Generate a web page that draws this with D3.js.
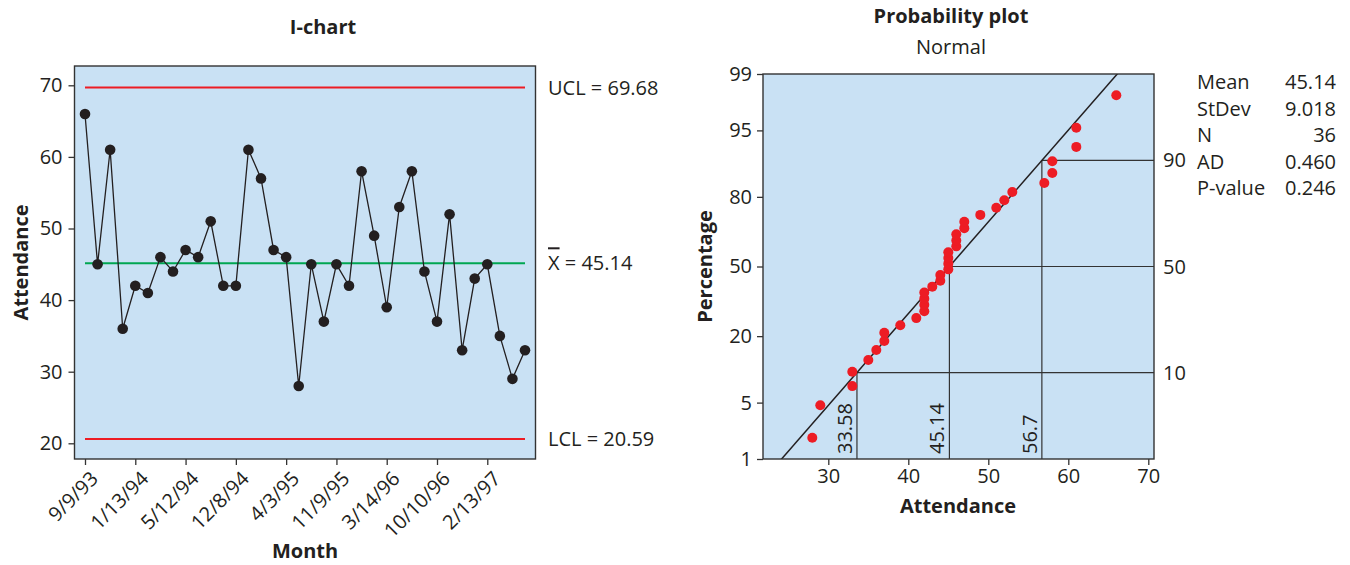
<!DOCTYPE html>
<html>
<head>
<meta charset="utf-8">
<script src="https://cdn.jsdelivr.net/npm/d3@7"></script>
<style>
  body { margin: 0; background: #fff; }
  svg text { font-family: 'Open Sans', sans-serif; fill: #231f20; }
  .bold { font-weight: 700; }
</style>
</head>
<body>
<div id="chart"></div>
<script>
// attendance per month, in order (36 readings)
const attendance = [66, 45, 61, 36, 42, 41, 46, 44, 47, 46, 51, 42, 42, 61, 57, 47, 46, 28,
    45, 37, 45, 42, 58, 49, 39, 53, 58, 44, 37, 52, 33, 43, 45, 35, 29, 33];
const monthLabels = ['9/9/93', '1/13/94', '5/12/94', '12/8/94', '4/3/95', '11/9/95', '3/14/96', '10/10/96', '2/13/97'];
const monthStep = 4;
const limits = { ucl: 69.68, mean: 45.14, lcl: 20.59 };
const attendanceTicks = [20, 30, 40, 50, 60, 70];
const probXTicks = [30, 40, 50, 60, 70];
const pctTicks = [1, 5, 20, 50, 80, 95, 99];
const refPcts = [10, 50, 90];
const statNames = ['Mean', 'StDev', 'N', 'AD', 'P-value'];
const statValues = ['45.14', '9.018', '36', '0.460', '0.246'];

const fillBg = '#c9e1f4';
const red = '#ed1c24';
const green = '#00a651';
const ink = '#231f20';
const fs = 20;

// inverse standard normal cdf (Acklam)
function normInv(p) {
    const a = [-39.69683028665376, 220.9460984245205, -275.9285104469687, 138.3577518672690, -30.66479806614716, 2.506628277459239];
    const b = [-54.47609879822406, 161.5858368580409, -155.6989798598866, 66.80131188771972, -13.28068155288572];
    const c = [-0.007784894002430293, -0.3223964580411365, -2.400758277161838, -2.549732539343734, 4.374664141464968, 2.938163982698783];
    const d = [0.007784695709041462, 0.3224671290700398, 2.445134137142996, 3.754408661907416];
    const pl = 0.02425;
    let q;
    let r;
    if (p < pl) {
        q = Math.sqrt(-2 * Math.log(p));
        return (((((c[0] * q + c[1]) * q + c[2]) * q + c[3]) * q + c[4]) * q + c[5])
            / ((((d[0] * q + d[1]) * q + d[2]) * q + d[3]) * q + 1);
    }
    if (p > 1 - pl) {
        q = Math.sqrt(-2 * Math.log(1 - p));
        return -(((((c[0] * q + c[1]) * q + c[2]) * q + c[3]) * q + c[4]) * q + c[5])
            / ((((d[0] * q + d[1]) * q + d[2]) * q + d[3]) * q + 1);
    }
    q = p - 0.5;
    r = q * q;
    return (((((a[0] * r + a[1]) * r + a[2]) * r + a[3]) * r + a[4]) * r + a[5]) * q
        / (((((b[0] * r + b[1]) * r + b[2]) * r + b[3]) * r + b[4]) * r + 1);
}

const svg = d3.select('#chart').append('svg')
    .attr('width', 1350)
    .attr('height', 565);

function drawIChart() {
    const box = { left: 74.5, right: 535.5, top: 66, bottom: 459 };
    const x = d3.scaleLinear().domain([1, attendance.length]).range([85, 525]);
    const y = d3.scaleLinear().domain([20, 70]).range([443.3, 85.3]);
    const g = svg.append('g');

    g.append('rect')
        .attr('x', box.left).attr('y', box.top)
        .attr('width', box.right - box.left).attr('height', box.bottom - box.top)
        .attr('fill', fillBg)
        .attr('stroke', '#333')
        .attr('stroke-width', 1.4);

    const yAxis = g.append('g')
        .attr('transform', `translate(${box.left},0)`)
        .call(d3.axisLeft(y).tickValues(attendanceTicks).tickSize(6).tickPadding(6));
    yAxis.select('.domain').remove();
    yAxis.selectAll('line').attr('stroke', '#333').attr('stroke-width', 1.3);
    yAxis.selectAll('text').attr('font-size', fs).attr('font-family', null).attr('fill', ink);

    const tickIdx = monthLabels.map((m, i) => 1 + i * monthStep);
    const xAxis = g.append('g')
        .attr('transform', `translate(0,${box.bottom})`)
        .call(d3.axisBottom(x).tickValues(tickIdx).tickSize(6).tickFormat((d, i) => monthLabels[i]));
    xAxis.select('.domain').remove();
    xAxis.selectAll('line').attr('stroke', '#333').attr('stroke-width', 1.3);
    xAxis.selectAll('text')
        .attr('font-size', fs).attr('font-family', null).attr('fill', ink)
        .attr('text-anchor', 'end')
        .attr('y', 0).attr('dy', '0.35em')
        .attr('transform', 'translate(9,16) rotate(-45)');

    [[limits.ucl, red], [limits.mean, green], [limits.lcl, red]].forEach(([v, col]) => {
        g.append('line')
            .attr('x1', x(1)).attr('x2', x(attendance.length))
            .attr('y1', y(v)).attr('y2', y(v))
            .attr('stroke', col)
            .attr('stroke-width', 2);
    });

    g.append('path')
        .datum(attendance)
        .attr('d', d3.line().x((d, i) => x(i + 1)).y(d => y(d)))
        .attr('fill', 'none')
        .attr('stroke', ink)
        .attr('stroke-width', 1.3);

    g.selectAll('.pt')
        .data(attendance)
        .enter()
        .append('circle')
        .attr('cx', (d, i) => x(i + 1))
        .attr('cy', d => y(d))
        .attr('r', 5.3)
        .attr('fill', ink);

    const lx = 548;
    g.append('text').attr('x', lx).attr('y', y(limits.ucl)).attr('dy', '0.35em')
        .attr('font-size', fs).text(`UCL = ${limits.ucl}`);
    const cl = g.append('text').attr('x', lx).attr('y', y(limits.mean)).attr('dy', '0.35em')
        .attr('font-size', fs);
    cl.append('tspan').style('text-decoration', 'overline').text('X');
    cl.append('tspan').text(` = ${limits.mean}`);
    g.append('text').attr('x', lx).attr('y', y(limits.lcl)).attr('dy', '0.35em')
        .attr('font-size', fs).text(`LCL = ${limits.lcl}`);

    g.append('text').attr('class', 'bold')
        .attr('x', 323).attr('y', 27).attr('dy', '0.35em')
        .attr('text-anchor', 'middle').attr('font-size', 20)
        .text('I-chart');
    g.append('text').attr('class', 'bold')
        .attr('x', 305).attr('y', 551).attr('dy', '0.35em')
        .attr('text-anchor', 'middle').attr('font-size', 20)
        .text('Month');
    g.append('text').attr('class', 'bold')
        .attr('transform', `translate(21,${(box.top + box.bottom) / 2}) rotate(-90)`)
        .attr('dy', '0.35em')
        .attr('text-anchor', 'middle').attr('font-size', 20)
        .text('Attendance');
}

function drawProbPlot() {
    const box = { left: 763, right: 1154, top: 74, bottom: 459 };
    const n = attendance.length;
    const mean = d3.mean(attendance);
    const sd = d3.deviation(attendance);
    const sorted = attendance.slice().sort(d3.ascending);
    const pts = sorted.map((v, i) => ({ v, p: (i + 1 - 0.3) / (n + 0.4) }));

    const x = d3.scaleLinear().domain([30, 70]).range([828.3, 1148.3]);
    const y = d3.scaleLinear().domain([normInv(0.01), normInv(0.99)]).range([box.bottom, box.top]);
    const yp = pct => y(normInv(pct / 100));
    const g = svg.append('g');

    g.append('clipPath').attr('id', 'pclip')
        .append('rect')
        .attr('x', box.left).attr('y', box.top)
        .attr('width', box.right - box.left).attr('height', box.bottom - box.top);

    g.append('rect')
        .attr('x', box.left).attr('y', box.top)
        .attr('width', box.right - box.left).attr('height', box.bottom - box.top)
        .attr('fill', fillBg);

    // reference lines at 10, 50, 90 percent
    refPcts.forEach(pc => {
        const xv = mean + normInv(pc / 100) * sd;
        g.append('line')
            .attr('x1', x(xv)).attr('x2', box.right)
            .attr('y1', yp(pc)).attr('y2', yp(pc))
            .attr('stroke', '#333').attr('stroke-width', 1.2);
        g.append('line')
            .attr('x1', x(xv)).attr('x2', x(xv))
            .attr('y1', yp(pc)).attr('y2', box.bottom)
            .attr('stroke', '#333').attr('stroke-width', 1.2);
        g.append('text')
            .attr('transform', `translate(${x(xv) - 12},${box.bottom - 5}) rotate(-90)`)
            .attr('dy', '0.35em')
            .attr('font-size', fs)
            .text(pc === 50 ? xv.toFixed(2) : +xv.toFixed(2));
        g.append('text')
            .attr('x', 1163).attr('y', yp(pc)).attr('dy', '0.35em')
            .attr('font-size', fs)
            .text(pc);
    });

    // fitted line
    g.append('line')
        .attr('clip-path', 'url(#pclip)')
        .attr('x1', x(mean + normInv(0.005) * sd)).attr('y1', y(normInv(0.005)))
        .attr('x2', x(mean + normInv(0.995) * sd)).attr('y2', y(normInv(0.995)))
        .attr('stroke', ink).attr('stroke-width', 1.5);

    g.selectAll('.pp')
        .data(pts)
        .enter()
        .append('circle')
        .attr('cx', d => x(d.v))
        .attr('cy', d => y(normInv(d.p)))
        .attr('r', 5)
        .attr('fill', red);

    g.append('rect')
        .attr('x', box.left).attr('y', box.top)
        .attr('width', box.right - box.left).attr('height', box.bottom - box.top)
        .attr('fill', 'none')
        .attr('stroke', '#333')
        .attr('stroke-width', 1.4);

    const yAxis = g.append('g')
        .attr('transform', `translate(${box.left},0)`)
        .call(d3.axisLeft(y).tickValues(pctTicks.map(p => normInv(p / 100)))
            .tickFormat((d, i) => pctTicks[i]).tickSize(6).tickPadding(5));
    yAxis.select('.domain').remove();
    yAxis.selectAll('line').attr('stroke', '#333').attr('stroke-width', 1.3);
    yAxis.selectAll('text').attr('font-size', fs).attr('font-family', null).attr('fill', ink);

    const xAxis = g.append('g')
        .attr('transform', `translate(0,${box.bottom})`)
        .call(d3.axisBottom(x).tickValues(probXTicks).tickSize(6).tickPadding(4));
    xAxis.select('.domain').remove();
    xAxis.selectAll('line').attr('stroke', '#333').attr('stroke-width', 1.3);
    xAxis.selectAll('text').attr('font-size', fs).attr('font-family', null).attr('fill', ink);

    g.append('text').attr('class', 'bold')
        .attr('x', 951).attr('y', 16).attr('dy', '0.35em')
        .attr('text-anchor', 'middle').attr('font-size', 20)
        .text('Probability plot');
    g.append('text')
        .attr('x', 951).attr('y', 47).attr('dy', '0.35em')
        .attr('text-anchor', 'middle').attr('font-size', fs)
        .text('Normal');
    g.append('text').attr('class', 'bold')
        .attr('x', 958).attr('y', 506).attr('dy', '0.35em')
        .attr('text-anchor', 'middle').attr('font-size', 20)
        .text('Attendance');
    g.append('text').attr('class', 'bold')
        .attr('transform', `translate(705,${(box.top + box.bottom) / 2}) rotate(-90)`)
        .attr('dy', '0.35em')
        .attr('text-anchor', 'middle').attr('font-size', 20)
        .text('Percentage');

    const stats = g.append('g');
    statNames.forEach((name, i) => {
        const ry = 82 + i * 26.5;
        stats.append('text').attr('x', 1197).attr('y', ry).attr('dy', '0.35em')
            .attr('font-size', fs).text(name);
        stats.append('text').attr('x', 1336).attr('y', ry).attr('dy', '0.35em')
            .attr('text-anchor', 'end').attr('font-size', fs).text(statValues[i]);
    });
}

drawIChart();
drawProbPlot();
</script>
</body>
</html>
